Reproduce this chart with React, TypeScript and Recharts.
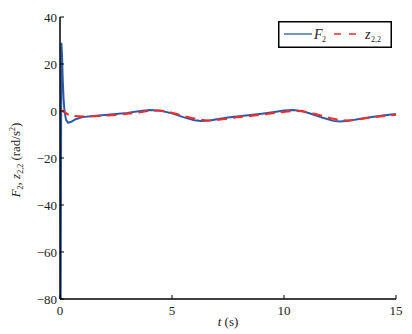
import React from 'react';
import { LineChart, Line, XAxis, YAxis } from 'recharts';

const blueT = [0.03, 0.06, 0.09, 0.12, 0.16, 0.2, 0.27, 0.36, 0.5, 0.7, 1.0, 1.5, 2, 2.5, 3, 3.5, 4.0, 4.5, 5, 5.5, 6, 6.3, 6.7, 7, 7.5, 8, 8.5, 9, 9.5, 10, 10.4, 10.8, 11.2, 11.7, 12.2, 12.5, 12.9, 13.4, 14, 14.5, 15];
const blueF = [-80, 29, 24, 14, 5, 0, -3.8, -5, -4.6, -3.5, -2.6, -2.1, -1.7, -1.3, -0.8, -0.1, 0.4, 0.1, -1, -2.6, -3.9, -4.3, -4.0, -3.5, -2.8, -2.2, -1.7, -1.2, -0.5, 0.2, 0.4, 0, -1.2, -2.8, -4.2, -4.5, -4.2, -3.3, -2.4, -1.8, -1.3];

const redT = [0, 0.2, 0.5, 1, 1.5, 2, 2.5, 3, 3.5, 4.0, 4.4, 4.9, 5.4, 6, 6.6, 7.0, 7.5, 8, 8.5, 9, 9.5, 10, 10.6, 11.1, 11.6, 12.2, 12.8, 13.3, 13.8, 14.4, 15];
const redZ = [0.5, -0.5, -2, -2.3, -2.2, -2, -1.7, -1.2, -0.6, 0, 0.2, -0.5, -1.8, -3.2, -4.0, -3.8, -3.2, -2.6, -2.1, -1.6, -1.0, -0.4, 0, -0.6, -1.8, -3.3, -4.0, -3.6, -2.9, -2.2, -1.6];

const xTicks = [0, 5, 10, 15];
const yTicks = [40, 20, 0, -20, -40, -60, -80];

const blueData = blueT.map((t, i) => ({ t, v: blueF[i] }));
const redData = redT.map((t, i) => ({ t, v: redZ[i] }));

const FONT = '"Liberation Serif", "Times New Roman", serif';
const fmt = (v: number) => (v < 0 ? '\u2212' + Math.abs(v) : String(v));

const BottomTick = (props: any) => {
  const { x, y, payload } = props;
  return (
    <g>
      <line x1={x} x2={x} y1={y - 8} y2={y - 12} stroke="#000" strokeWidth={1} />
      <text x={x} y={y + 8} textAnchor="middle" fontFamily={FONT} fontSize={13} fill="#222">{fmt(payload.value)}</text>
    </g>
  );
};
const LeftTick = (props: any) => {
  const { x, y, payload } = props;
  return (
    <g>
      <line x1={x + 8} x2={x + 12} y1={y} y2={y} stroke="#000" strokeWidth={1} />
      <text x={x + 5} y={y + 4.5} textAnchor="end" fontFamily={FONT} fontSize={13} fill="#222">{fmt(payload.value)}</text>
    </g>
  );
};
const TopTick = (props: any) => {
  const { x, y } = props;
  return <line x1={x} x2={x} y1={y} y2={y + 4} stroke="#000" strokeWidth={1} />;
};
const RightTick = (props: any) => {
  const { x, y } = props;
  return <line x1={x} x2={x - 4} y1={y} y2={y} stroke="#000" strokeWidth={1} />;
};

export default function App() {
  return (
    <div style={{ position: 'absolute', left: 0, top: 0, background: '#fff' }}>
      <LineChart width={412} height={334} margin={{ top: 17, right: 16, left: 0, bottom: 0 }}>
        <XAxis dataKey="t" type="number" domain={[0, 15]} ticks={xTicks} allowDataOverflow
          axisLine={{ stroke: '#000', strokeWidth: 1.5 }} tickLine={false} tickSize={0} tickMargin={8}
          height={35} tick={<BottomTick />} interval={0} />
        <XAxis xAxisId="top" orientation="top" dataKey="t" type="number" domain={[0, 15]} ticks={xTicks}
          axisLine={{ stroke: '#000', strokeWidth: 1.5 }} tickLine={false} tickSize={0} tickMargin={0}
          height={0} tick={<TopTick />} interval={0} />
        <YAxis type="number" domain={[-80, 40]} ticks={yTicks} allowDataOverflow
          axisLine={{ stroke: '#000', strokeWidth: 1.5 }} tickLine={false} tickSize={0} tickMargin={8}
          width={60} tick={<LeftTick />} interval={0} />
        <YAxis yAxisId="right" orientation="right" type="number" domain={[-80, 40]} ticks={yTicks}
          axisLine={{ stroke: '#000', strokeWidth: 1.5 }} tickLine={false} tickSize={0} tickMargin={0}
          width={0} tick={<RightTick />} interval={0} />
        <Line data={blueData} dataKey="v" type="linear" stroke="#2b5ba8" strokeWidth={2}
          dot={false} isAnimationActive={false} />
        <Line data={redData} dataKey="v" type="monotone" stroke="#ff2a2a" strokeWidth={2} strokeDasharray="10 6"
          dot={false} isAnimationActive={false} />
        <g transform="translate(278,21)">
          <rect x={0.75} y={0.75} width={112.5} height={25.5} fill="#fff" stroke="#000" strokeWidth={1.5} />
          <line x1={6} x2={34} y1={13} y2={13} stroke="#2b5ba8" strokeWidth={1.3} />
          <text x={36} y={18} fontFamily={FONT} fontStyle="italic" fontSize={14} fill="#222">F</text>
          <text x={44} y={21} fontFamily={FONT} fontSize={8} fill="#222">2</text>
          <line x1={56} x2={84} y1={13} y2={13} stroke="#ff2a2a" strokeWidth={1.3} strokeDasharray="7 8" />
          <text x={87} y={18} fontFamily={FONT} fontStyle="italic" fontSize={14} fill="#222">z</text>
          <text x={93} y={21} fontFamily={FONT} fontSize={8} fill="#222">2,2</text>
        </g>
        <text x={20} y={160} transform="rotate(-90 20 160)" textAnchor="middle" fontFamily={FONT} fontSize={13} fill="#222">
          <tspan fontStyle="italic">F</tspan><tspan fontSize={8} dy={3}>2</tspan><tspan dy={-3}>, </tspan>
          <tspan fontStyle="italic">z</tspan><tspan fontSize={8} dy={3}>2,2</tspan><tspan dy={-3}> (rad/s</tspan>
          <tspan fontSize={8} dy={-5}>2</tspan><tspan dy={5}>)</tspan>
        </text>
        <text x={228} y={326} textAnchor="middle" fontFamily={FONT} fontSize={13} fill="#222">
          <tspan fontStyle="italic">t</tspan><tspan> (s)</tspan>
        </text>
      </LineChart>
    </div>
  );
}
